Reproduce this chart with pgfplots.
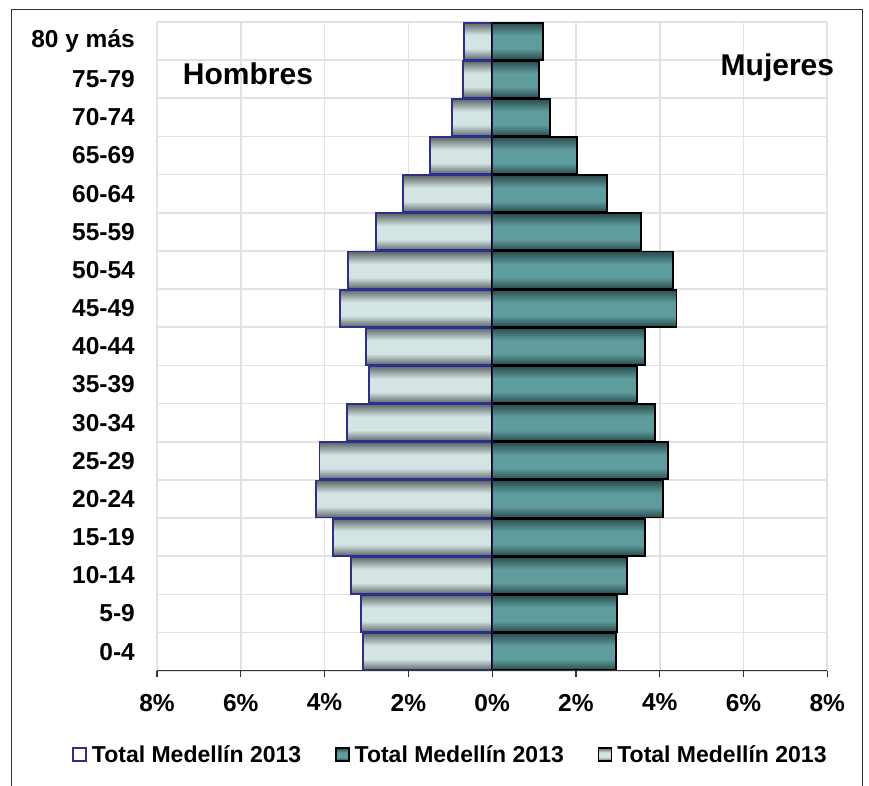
\documentclass[border=0pt]{standalone}
\usepackage{fontspec}
\setmainfont{Liberation Sans}
\usepackage{pgfplots}
\pgfplotsset{compat=1.18}
\definecolor{mDark}{HTML}{5E6666}
\definecolor{mLight}{HTML}{D4E4E4}
\definecolor{wDark}{HTML}{2A4B4C}
\definecolor{wLight}{HTML}{5E9C9E}
\definecolor{navyb}{HTML}{2E2E8C}
\definecolor{gridc}{HTML}{E2E2E2}
\pgfdeclareverticalshading{mensh}{100bp}{color(0bp)=(mDark); color(25bp)=(mDark); color(40bp)=(mLight); color(58bp)=(mLight); color(75bp)=(mDark); color(100bp)=(mDark)}
\pgfdeclareverticalshading{womsh}{100bp}{color(0bp)=(wDark); color(25bp)=(wDark); color(40bp)=(wLight); color(58bp)=(wLight); color(75bp)=(wDark); color(100bp)=(wDark)}
\pgfplotsset{
  menbar/.style={forget plot, xbar, bar width=0.97, bar shift=0pt, draw=navyb, line width=1.9pt, shade, shading=mensh},
  wombar/.style={forget plot, xbar, bar width=0.97, bar shift=0pt, draw=black, line width=1.9pt, shade, shading=womsh},
}

\begin{document}
\begin{tikzpicture}[x=1pt,y=1pt]
\path[use as bounding box] (0,0) rectangle (869,786);
\draw[line width=1.2pt, black!80] (11.7,-2) -- (11.7,776.5) -- (862.7,776.5) -- (862.7,-2);
\begin{axis}[
  at={(157pt,115.3pt)}, anchor=south west,
  scale only axis, width=670.3pt, height=648.7pt,
  xmin=-8, xmax=8, ymin=-0.5, ymax=16.5,
  xtick={-8,-6,...,8},
  xticklabels={8\%,6\%,4\%,2\%,0\%,2\%,4\%,6\%,8\%},
  ytick={0,...,16},
  yticklabels={0-4,5-9,10-14,15-19,20-24,25-29,30-34,35-39,40-44,45-49,50-54,55-59,60-64,65-69,70-74,75-79,80 y más},
  minor ytick={-0.5,0.5,...,16.5},
  xmajorgrids, yminorgrids,
  grid style={gridc, line width=1.7pt},
  minor grid style={gridc, line width=1.7pt},
  axis line style={draw=none},
  tick pos=left,
  tick align=outside,
  major tick length=6.5pt,
  xtick style={black!80, line width=1.2pt},
  ytick style={draw=none},
  minor tick style={draw=none},
  xticklabel style={font=\fontsize{24.5}{28}\selectfont\bfseries, anchor=north, inner sep=0pt, yshift=-16.5pt},
  yticklabel style={font=\fontsize{24.5}{28}\selectfont\bfseries, anchor=east, inner sep=0pt, xshift=-15.5pt},
  legend style={at={(axis description cs:-0.1264,-0.1292)}, anchor=west, draw=none, fill=none, inner sep=0pt,
    font=\fontsize{23}{27}\selectfont\bfseries, legend columns=3,
    /tikz/every odd column/.append style={column sep=5pt},
    /tikz/every even column/.append style={column sep=34pt},
    nodes={inner sep=0pt}},
  legend image code/.code={\draw[#1] (0pt,-6.5pt) rectangle (13pt,6.5pt);},
]
\addlegendimage{draw=navyb, fill=white, line width=1.5pt}
\addlegendentry{Total Medellín 2013}
\addlegendimage{draw=black, shade, shading=womsh, line width=1.5pt}
\addlegendentry{Total Medellín 2013}
\addlegendimage{draw=black, shade, shading=mensh, line width=1.5pt}
\addlegendentry{Total Medellín 2013}

% Hombres (negative), one bar per group so each bar gets its own shading
\addplot[menbar] coordinates {(-3.09,0)};
\addplot[menbar] coordinates {(-3.14,1)};
\addplot[menbar] coordinates {(-3.36,2)};
\addplot[menbar] coordinates {(-3.79,3)};
\addplot[menbar] coordinates {(-4.20,4)};
\addplot[menbar] coordinates {(-4.12,5)};
\addplot[menbar] coordinates {(-3.47,6)};
\addplot[menbar] coordinates {(-2.94,7)};
\addplot[menbar] coordinates {(-3.02,8)};
\addplot[menbar] coordinates {(-3.64,9)};
\addplot[menbar] coordinates {(-3.44,10)};
\addplot[menbar] coordinates {(-2.78,11)};
\addplot[menbar] coordinates {(-2.13,12)};
\addplot[menbar] coordinates {(-1.49,13)};
\addplot[menbar] coordinates {(-0.95,14)};
\addplot[menbar] coordinates {(-0.69,15)};
\addplot[menbar] coordinates {(-0.67,16)};
% Mujeres
\addplot[wombar] coordinates {(2.95,0)};
\addplot[wombar] coordinates {(2.98,1)};
\addplot[wombar] coordinates {(3.22,2)};
\addplot[wombar] coordinates {(3.64,3)};
\addplot[wombar] coordinates {(4.07,4)};
\addplot[wombar] coordinates {(4.19,5)};
\addplot[wombar] coordinates {(3.88,6)};
\addplot[wombar] coordinates {(3.45,7)};
\addplot[wombar] coordinates {(3.64,8)};
\addplot[wombar] coordinates {(4.40,9)};
\addplot[wombar] coordinates {(4.32,10)};
\addplot[wombar] coordinates {(3.55,11)};
\addplot[wombar] coordinates {(2.75,12)};
\addplot[wombar] coordinates {(2.02,13)};
\addplot[wombar] coordinates {(1.38,14)};
\addplot[wombar] coordinates {(1.12,15)};
\addplot[wombar] coordinates {(1.22,16)};

\draw[black!80, line width=1.3pt] (rel axis cs:0,0) -- (rel axis cs:1,0);
\draw[navyb!60!black, line width=1.3pt] (axis cs:0,-0.5) -- (axis cs:0,16.5);
\end{axis}
\node[font=\fontsize{30}{36}\selectfont\bfseries] at (248,712) {Hombres};
\node[font=\fontsize{30}{36}\selectfont\bfseries] at (777.4,718) {Mujeres};
\end{tikzpicture}
\end{document}
